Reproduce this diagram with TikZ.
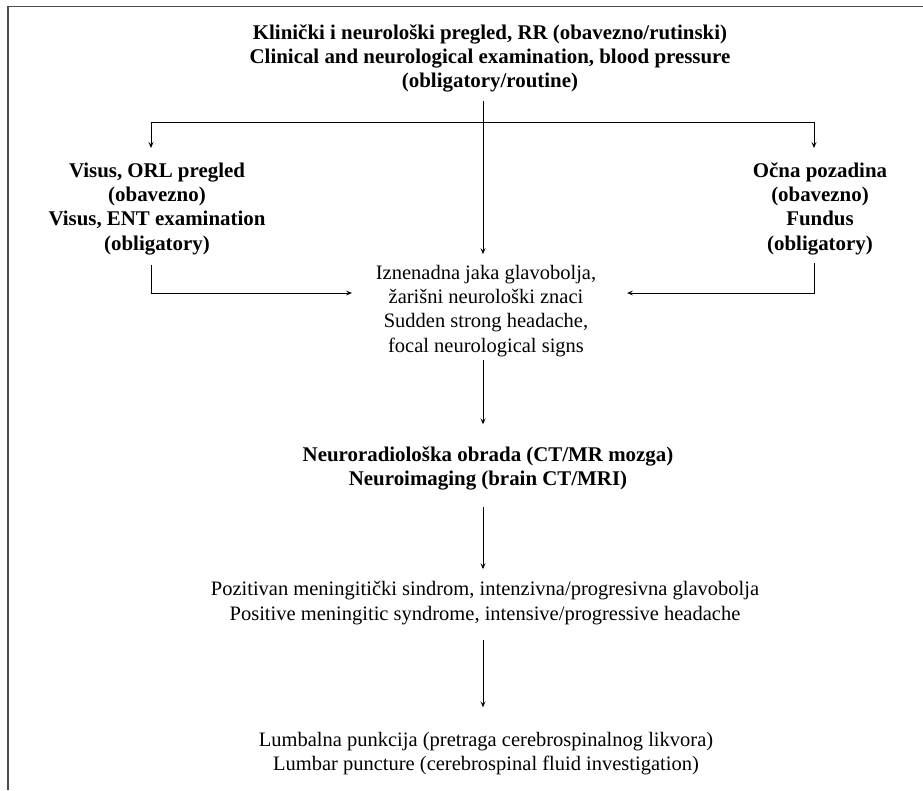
\documentclass[tikz,border=0pt]{standalone}
\usepackage{fontspec}
\setmainfont{Liberation Serif}
\usetikzlibrary{arrows.meta}
\begin{document}
\begin{tikzpicture}[x=1pt,y=1pt,
  every node/.style={inner sep=0pt,outer sep=0pt,align=center,anchor=north},
  regtxt/.style={font=\fontsize{20.5}{24.3}\selectfont},
  boldtxt/.style={font=\fontsize{20.9}{24.3}\selectfont\bfseries},
  arr/.style={-{Stealth[length=6pt,width=5pt,inset=2.5pt]},line width=0.85pt}]
\useasboundingbox (0,0) rectangle (923,-790);
\draw[line width=1.6pt,black!70] (8,-790) -- (8,-6.5) -- (923,-6.5);
\node[boldtxt] (title) at (490,-24.4) {Klinički i neurološki pregled, RR (obavezno/rutinski)\\Clinical and neurological examination, blood pressure\\(obligatory/routine)};
\node[boldtxt] (left) at (157,-162.6) {Visus, ORL pregled\\(obavezno)\\Visus, ENT examination\\(obligatory)};
\node[boldtxt] (right) at (820,-162.6) {Očna pozadina\\(obavezno)\\Fundus\\(obligatory)};
\node[regtxt] (mid) at (486,-265) {Iznenadna jaka glavobolja,\\žarišni neurološki znaci\\Sudden strong headache,\\focal neurological signs};
\node[boldtxt] (neuro) at (488,-446.5) {Neuroradiološka obrada (CT/MR mozga)\\Neuroimaging (brain CT/MRI)};
\node[regtxt] (pos) at (485,-581.7) {Pozitivan meningitički sindrom, intenzivna/progresivna glavobolja\\Positive meningitic syndrome, intensive/progressive headache};
\node[regtxt] (lp) at (486,-732) {Lumbalna punkcija (pretraga cerebrospinalnog likvora)\\Lumbar puncture (cerebrospinal fluid investigation)};
\coordinate (split) at (483,-122);
\coordinate (lcol) at (151,-122);
\coordinate (rcol) at (814,-122);
\coordinate (lrow) at (0,-293);
\draw[arr] ([yshift=-8.8pt]title.south -| split) -- ([yshift=10.9pt]mid.north -| split);
\draw[arr] (split) -- (lcol) -- ([yshift=14.6pt]left.north -| lcol);
\draw[arr] (split) -- (rcol) -- ([yshift=14.6pt]right.north -| rcol);
\draw[arr] ([yshift=-10.5pt]left.south -| lcol) |- ([xshift=-24pt]mid.west |- lrow);
\draw[arr] ([yshift=-8.5pt]right.south -| rcol) |- ([xshift=31pt]mid.east |- lrow);
\draw[arr] ([yshift=-3pt]mid.south -| split) -- ([yshift=22.2pt]neuro.north -| split);
\draw[arr] ([yshift=-17pt]neuro.south -| split) -- ([yshift=12.6pt]pos.north -| split);
\draw[arr] ([yshift=-15.5pt]pos.south -| split) -- ([yshift=24.7pt]lp.north -| split);
\end{tikzpicture}
\end{document}
